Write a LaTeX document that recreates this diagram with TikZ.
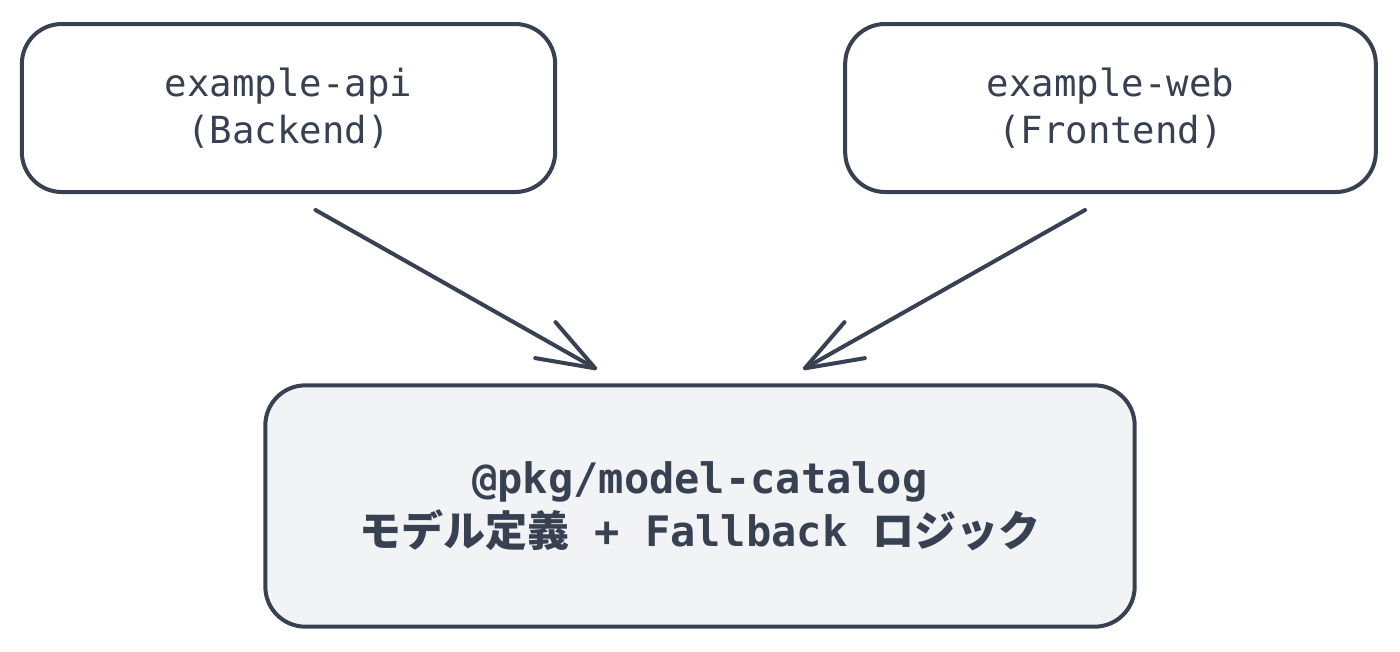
\documentclass[tikz,border=0pt]{standalone}
\usepackage{fontspec}
\setmonofont{DejaVu Sans Mono}
\newfontfamily\cjk{Noto Sans CJK JP}
\usetikzlibrary{arrows.meta,calc}
\definecolor{ink}{HTML}{374151}
\definecolor{pale}{HTML}{F1F3F5}
\tikzset{
  box/.style={draw=ink, line width=3pt, rounded corners=30pt, align=center, text=ink, font=\ttfamily\fontsize{28}{35}\selectfont},
  conn/.style={draw=ink, line width=3pt, line cap=round, -{Straight Barb[length=43pt,width=31pt,line cap=round,line join=round]}}
}
\begin{document}
\begin{tikzpicture}[x=0.75pt,y=-0.75pt]
\useasboundingbox (0,0) rectangle (1400,651);
\node[box, minimum width=400pt, minimum height=126pt] (api) at (288.5,108) {example-api\\(Backend)};
\node[box, minimum width=398pt, minimum height=126pt] (web) at (1110.5,108) {example-web\\(Frontend)};
\node[box, fill=pale, minimum width=652pt, minimum height=181pt, font=\ttfamily\bfseries\fontsize{31.5}{40}\selectfont] (cat) at (700,506) {@pkg/model-catalog\\{\cjk\bfseries モデル定義} + Fallback {\cjk\bfseries ロジック}};
\draw[conn] ($(api.south)+(27,16)$) -- ($(cat.north)+(-103,-14)$);
\draw[conn] ($(web.south)+(-25.5,16)$) -- ($(cat.north)+(103,-14)$);
\end{tikzpicture}
\end{document}
